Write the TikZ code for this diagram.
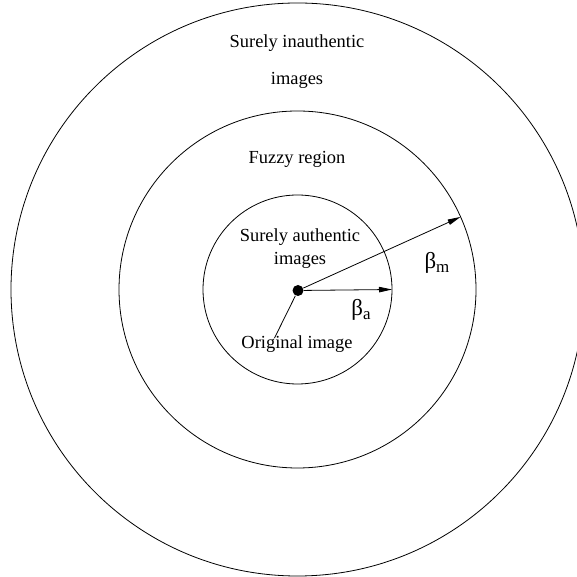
\documentclass[tikz,border=0pt]{standalone}
\usepackage{fontspec}
\setmainfont{Liberation Serif}
\usetikzlibrary{positioning, arrows.meta}

\begin{document}
\begin{tikzpicture}[
        x=1bp, y=1bp,
        line width=0.8bp,
        >={Triangle[length=13bp, width=5.5bp]},
        % ----- styles -----
        ring/.style={draw, line width=0.8bp},
        lbl/.style={font=\fontsize{18.5}{22}\selectfont, inner sep=0pt},
        radlbl/.style={font=\fontsize{23}{26}\selectfont, inner sep=0pt},
        orig/.style={circle, fill=black, minimum size=11bp, inner sep=0pt}
    ]
    \clip (0,0) rectangle (577,577);

    % ----- centre and rings -----
    \coordinate (c) at (297.5,287.5);
    \draw[ring] (c) circle[radius=286.5];
    \draw[ring] (c) circle[radius=178.5];
    \draw[ring] (c) circle[radius=94.5];

    \node[orig] (img) at (298,286.5) {};

    % ----- labels -----
    \node[lbl] (inauth) at (297,534) {Surely inauthentic};
    \node[lbl] (inauthimg) at (297,497) {images};
    \node[lbl] (fuzzy) at (297,418) {Fuzzy region};
    \node[lbl] (auth) at (300,340) {Surely authentic};
    \node[lbl] (authimg) at (300,317) {images};
    \node[lbl] (origlbl) at (297,233) {Original image};
    \node[radlbl] (bm) at (437,314) {β\raisebox{-0.4ex}{\fontsize{17}{19}\selectfont m}};
    \node[radlbl] (ba) at (361,267) {β\raisebox{-0.4ex}{\fontsize{17}{19}\selectfont a}};

    % ----- radii -----
    \coordinate (ra) at ([shift={(0:94.5)}]c);
    \coordinate (rm) at ([shift={(24:178.5)}]c);
    \coordinate (tail) at (274.5,239);

    \draw[->] (img) -- (ra);
    \draw[->] (img) -- (rm);
    \draw (img) -- (tail);
\end{tikzpicture}
\end{document}
